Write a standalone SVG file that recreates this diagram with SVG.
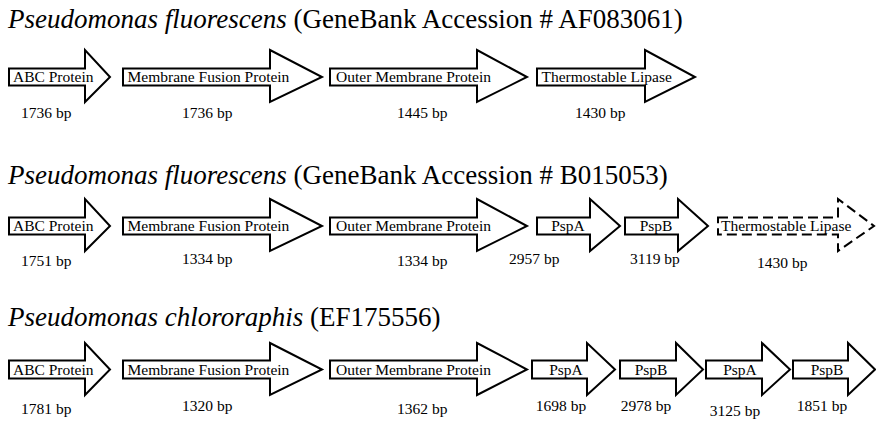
<svg xmlns="http://www.w3.org/2000/svg" width="876" height="424" viewBox="0 0 876 424">
<style>
text{font-family:"Liberation Serif","Times New Roman",serif;fill:#000}
.title{font-size:27px}
.it{font-style:italic}
.lbl{font-size:15.5px}
.bp{font-size:15.5px}
.arr{fill:#fff;stroke:#000;stroke-width:2;stroke-linejoin:miter}
.dash{fill:#fff;stroke:#000;stroke-width:2;stroke-dasharray:10,5}
</style>
<rect width="876" height="424" fill="#fff"/>

<g id="title1"><text class="title" x="8" y="28"><tspan class="it">Pseudomonas fluorescens</tspan> (GeneBank Accession # AF083061)</text></g>
<g id="r1-abc"><path class="arr" d="M9,68.5H85V50L110,77L85,102V85.5H9Z"/><text class="lbl" x="13" y="82">ABC Protein</text><text class="bp" x="21" y="118">1736 bp</text></g>
<g id="r1-mfp"><path class="arr" d="M123,68.5H270V50L322,77L270,102V85.5H123Z"/><text class="lbl" x="127.5" y="82">Membrane Fusion Protein</text><text class="bp" x="182" y="118">1736 bp</text></g>
<g id="r1-omp"><path class="arr" d="M330,68.5H477V50L527,77L477,102V85.5H330Z"/><text class="lbl" x="336" y="82">Outer Membrane Protein</text><text class="bp" x="397" y="118">1445 bp</text></g>
<g id="r1-tl"><path class="arr" d="M537,68.5H645V50L695,77L645,102V85.5H537Z"/><text class="lbl" x="541.5" y="82">Thermostable Lipase</text><text class="bp" x="575" y="118">1430 bp</text></g>

<g id="title2"><text class="title" x="8" y="184"><tspan class="it">Pseudomonas fluorescens</tspan> (GeneBank Accession # B015053)</text></g>
<g id="r2-abc"><path class="arr" d="M9,217.5H85V199L110,226L85,251V234.5H9Z"/><text class="lbl" x="13" y="231">ABC Protein</text><text class="bp" x="21" y="266">1751 bp</text></g>
<g id="r2-mfp"><path class="arr" d="M123,217.5H270V199L322,226L270,251V234.5H123Z"/><text class="lbl" x="127.5" y="231">Membrane Fusion Protein</text><text class="bp" x="182" y="264">1334 bp</text></g>
<g id="r2-omp"><path class="arr" d="M330,217.5H477V199L527,226L477,251V234.5H330Z"/><text class="lbl" x="336" y="231">Outer Membrane Protein</text><text class="bp" x="397" y="266">1334 bp</text></g>
<g id="r2-pspa"><path class="arr" d="M537,217.5H590V199L620,226L590,251V234.5H537Z"/><text class="lbl" x="568" y="231" text-anchor="middle">PspA</text><text class="bp" x="509" y="264">2957 bp</text></g>
<g id="r2-pspb"><path class="arr" d="M625,217.5H678V199L708,226L678,251V234.5H625Z"/><text class="lbl" x="656" y="231" text-anchor="middle">PspB</text><text class="bp" x="630" y="264">3119 bp</text></g>
<g id="r2-tl"><path class="dash" d="M718,217.5H838V199L874,226L838,251V234.5H718Z"/><text class="lbl" x="721" y="231">Thermostable Lipase</text><text class="bp" x="757" y="268">1430 bp</text></g>

<g id="title3"><text class="title" x="8" y="326"><tspan class="it">Pseudomonas chlororaphis</tspan> (EF175556)</text></g>
<g id="r3-abc"><path class="arr" d="M9,360.5H85V343L110,369.5L85,395V378.5H9Z"/><text class="lbl" x="13" y="374.5">ABC Protein</text><text class="bp" x="21" y="414">1781 bp</text></g>
<g id="r3-mfp"><path class="arr" d="M123,360.5H270V343L322,369.5L270,395V378.5H123Z"/><text class="lbl" x="127.5" y="374.5">Membrane Fusion Protein</text><text class="bp" x="182" y="411">1320 bp</text></g>
<g id="r3-omp"><path class="arr" d="M330,360.5H477V343L527,369.5L477,395V378.5H330Z"/><text class="lbl" x="336" y="374.5">Outer Membrane Protein</text><text class="bp" x="397" y="414">1362 bp</text></g>
<g id="r3-pspa1"><path class="arr" d="M532,360.5H587V343L615,369.5L587,395V378.5H532Z"/><text class="lbl" x="566" y="374.5" text-anchor="middle">PspA</text><text class="bp" x="561" y="411" text-anchor="middle">1698 bp</text></g>
<g id="r3-pspb1"><path class="arr" d="M620,360.5H676V343L703,369.5L676,395V378.5H620Z"/><text class="lbl" x="651" y="374.5" text-anchor="middle">PspB</text><text class="bp" x="646" y="411" text-anchor="middle">2978 bp</text></g>
<g id="r3-pspa2"><path class="arr" d="M706,360.5H762V343L790,369.5L762,395V378.5H706Z"/><text class="lbl" x="740" y="374.5" text-anchor="middle">PspA</text><text class="bp" x="735" y="416" text-anchor="middle">3125 bp</text></g>
<g id="r3-pspb2"><path class="arr" d="M793,360.5H848V343L875,369.5L848,395V378.5H793Z"/><text class="lbl" x="827" y="374.5" text-anchor="middle">PspB</text><text class="bp" x="822" y="411" text-anchor="middle">1851 bp</text></g>
<g id="connectors"/>
</svg>
